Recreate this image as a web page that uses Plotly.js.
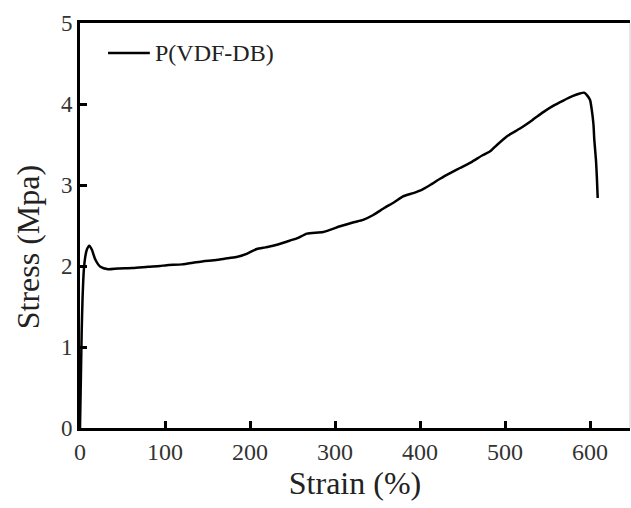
<!DOCTYPE html>
<html>
<head>
<meta charset="utf-8">
<script src="https://cdn.plot.ly/plotly-3.0.1.min.js"></script>
<style>html,body{margin:0;padding:0;background:#fff;}#chart{width:631px;height:508px;}</style>
</head>
<body>
<div id="chart"></div>
<script>
const seriesName = "P(VDF-DB)";
const strain = [0, 1, 2, 3, 4.5, 6, 8, 11, 14, 18, 24, 33, 45, 62, 80, 94, 102, 120, 133, 145, 157, 170, 184, 196, 208, 218, 227, 243, 255, 267, 286, 306, 322, 333, 345, 357, 370, 380, 392, 400, 412, 424, 436, 447, 460, 474, 483, 490, 502, 518, 532, 545, 557, 568, 580, 588, 593, 597, 600, 602, 604, 605, 607, 608, 609];
const stress = [0, 0.6, 1.2, 1.6, 1.95, 2.1, 2.2, 2.25, 2.2, 2.08, 1.99, 1.96, 1.97, 1.975, 1.99, 2.0, 2.01, 2.02, 2.04, 2.06, 2.07, 2.09, 2.11, 2.15, 2.21, 2.23, 2.25, 2.30, 2.34, 2.40, 2.42, 2.49, 2.54, 2.57, 2.63, 2.71, 2.79, 2.86, 2.90, 2.93, 3.00, 3.08, 3.15, 3.21, 3.28, 3.37, 3.42, 3.49, 3.60, 3.70, 3.80, 3.90, 3.98, 4.04, 4.10, 4.13, 4.14, 4.10, 4.05, 3.93, 3.75, 3.56, 3.30, 3.10, 2.84];
const xTicks = [0, 100, 200, 300, 400, 500, 600];
const yTicks = [0, 1, 2, 3, 4, 5];
const xTitle = 'Strain (%)';
const yTitle = 'Stress (Mpa)';

const fontFam = '"Liberation Serif", "Times New Roman", serif';
const trace = {
  x: strain, y: stress, type: 'scatter', mode: 'lines', name: seriesName,
  line: {color: '#000', width: 2.5, shape: 'spline', smoothing: 0.6},
  showlegend: false
};
const layout = {
  width: 631, height: 508,
  margin: {l: 80, r: 1, t: 23, b: 80},
  paper_bgcolor: '#fff', plot_bgcolor: '#fff',
  font: {family: fontFam, color: '#222'},
  showlegend: false,
  xaxis: {
    range: [0, 647], tickvals: xTicks, ticktext: xTicks.map(String),
    ticks: 'inside', ticklen: 7, tickwidth: 3, tickcolor: '#000',
    showline: true, linecolor: '#000', linewidth: 3, mirror: true,
    showgrid: false, zeroline: false,
    tickfont: {family: fontFam, size: 24, color: '#333'},
    title: {text: xTitle, font: {family: fontFam, size: 32, color: '#222'}, standoff: 8}
  },
  yaxis: {
    range: [0, 5], tickvals: yTicks, ticktext: yTicks.map(String),
    ticks: 'inside', ticklen: 7, tickwidth: 3, tickcolor: '#000',
    showline: true, linecolor: '#000', linewidth: 3, mirror: false,
    showgrid: false, zeroline: false,
    tickfont: {family: fontFam, size: 23, color: '#333'}
  },
  shapes: [
    {type: 'line', xref: 'paper', yref: 'paper', x0: 1, x1: 1, y0: 0, y1: 1,
     line: {color: '#ccc', width: 1}},
    {type: 'line', xref: 'paper', yref: 'paper', x0: 0.051, x1: 0.127, y0: 0.926, y1: 0.926,
     line: {color: '#000', width: 2.5}}
  ],
  annotations: [
    {text: seriesName, xref: 'paper', yref: 'paper', x: 0.133, y: 0.926,
     xanchor: 'left', yanchor: 'middle', showarrow: false,
     font: {family: fontFam, size: 24, color: '#222'}},
    {text: yTitle, xref: 'paper', yref: 'paper', x: -0.094, y: 0.447, xanchor: 'center', yanchor: 'middle',
     textangle: -90, showarrow: false, font: {family: fontFam, size: 32, color: '#222'}}
  ]
};
Plotly.newPlot('chart', [trace], layout, {displayModeBar: false, staticPlot: true});
</script>
</body>
</html>
